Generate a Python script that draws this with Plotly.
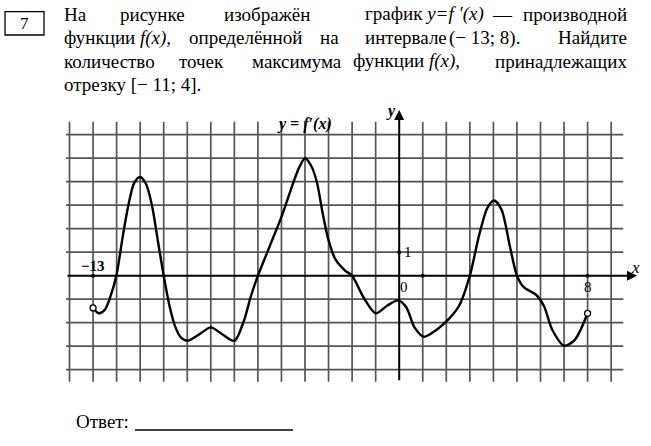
import plotly.graph_objects as go

W, H = 651, 446

# ---- data: y = f'(x) ----
x_vals = [-13, -12.75, -12.5, -12.25, -12, -11.75, -11.5, -11.25, -11, -10.75, -10.5,
          -10.25, -10, -9.75, -9.5, -9.25, -9, -8.5, -8, -7.5, -7, -6.6, -6.3, -6,
          -5.5, -5, -4.5, -4.25, -4, -3.75, -3.5, -3.25, -3, -2.7, -2.3, -2, -1.5,
          -1, -0.5, -0.05, 0.3, 0.65, 1.05, 1.55, 2.1, 2.55, 3, 3.4, 3.75, 4.03,
          4.35, 4.7, 5, 5.3, 5.8, 6.15, 6.5, 7, 7.45, 8]
y_vals = [-1.37, -1.6, -1.45, -0.85, 0.05, 1.6, 3.0, 3.95, 4.2, 3.9, 3.0,
          1.5, 0, -1.3, -2.2, -2.65, -2.77, -2.5, -2.2, -2.5, -2.77, -1.94, -0.88, 0,
          1.25, 2.5, 3.95, 4.6, 5.0, 4.7, 4.0, 2.66, 1.5, 0.68, 0.22, 0, -0.95,
          -1.6, -1.27, -1.05, -1.34, -2.2, -2.6, -2.33, -1.85, -1.27, 0, 1.75, 2.9, 3.2,
          2.8, 1.25, 0, -0.5, -0.8, -1.3, -2.3, -2.98, -2.74, -1.6]

grid_x = list(range(-14, 10))
grid_y = list(range(-4, 7))
tick_x_labels = {-13: "−13", 0: "0", 8: "8"}
tick_y_labels = {1: "1"}

# ---- pixel mapping of the drawing ----
X0, UX = 399.2, 23.55   # pixel of x=0, px per unit
Y0, UY = 275.7, 23.5    # pixel of y=0, px per unit
xr = [-X0 / UX, (W - X0) / UX]
yr = [(Y0 - H) / UY, Y0 / UY]

def dx(px):
    return (px - X0) / UX

def dy(py):
    return (Y0 - py) / UY

fig = go.Figure()

shapes = []
GRID = dict(color="#555555", width=1.7)
for gx in grid_x:
    if gx == 0:
        continue
    shapes.append(dict(type="line", xref="x", yref="y", x0=gx, x1=gx,
                       y0=dy(381.7), y1=dy(121.7), line=GRID, layer="below"))
for gy in grid_y:
    if gy == 0:
        continue
    shapes.append(dict(type="line", xref="x", yref="y", x0=dx(66), x1=dx(623.3),
                       y0=gy, y1=gy, line=GRID, layer="below"))

# box around task number
shapes.append(dict(type="rect", xref="x", yref="y", x0=dx(5), x1=dx(44),
                   y0=dy(11.7), y1=dy(35), line=dict(color="black", width=1.3)))
# answer underline
shapes.append(dict(type="line", xref="x", yref="y", x0=dx(135), x1=dx(293),
                   y0=dy(430), y1=dy(430), line=dict(color="black", width=1.3)))

annotations = []
# axes with arrows
annotations.append(dict(x=dx(637), y=0, ax=dx(66), ay=0, xref="x", yref="y",
                        axref="x", ayref="y", text="", showarrow=True,
                        arrowhead=2, arrowsize=1, arrowwidth=2, arrowcolor="black",
                        standoff=0, startstandoff=0))
annotations.append(dict(x=0, y=dy(110), ax=0, ay=dy(381.7), xref="x", yref="y",
                        axref="x", ayref="y", text="", showarrow=True,
                        arrowhead=2, arrowsize=1, arrowwidth=2, arrowcolor="black",
                        standoff=0, startstandoff=0))

SERIF = "Liberation Serif"

def txt(px, py, s, size=19, anchor="left", color="black", family=SERIF):
    annotations.append(dict(x=dx(px), y=dy(py), xref="x", yref="y", text=s,
                            showarrow=False, xanchor=anchor, yanchor="middle",
                            font=dict(family=family, size=size, color=color)))

# task text, justified word by word (last word right-anchored at the margin)
lines = [
    (14, [(61.7, "На", "left"), (118, "рисунке", "left"), (222, "изображён", "left"),
          (363, "график <i>y=f ′(x)</i>", "left"), (490, "—", "left"),
          (629, "производной", "right")]),
    (37.5, [(62, "функции <i>f(x),</i>", "left"),
            (187, "определённой", "left"), (318, "на", "left"),
            (363, "интервале", "left"), (447, "(− 13; 8).", "left"),
            (629, "Найдите", "right")]),
    (61, [(62, "количество", "left"), (177, "точек", "left"), (250, "максимума", "left"),
          (351, "функции <i>f(x),</i>", "left"),
          (629, "принадлежащих", "right")]),
    (84.5, [(62, "отрезку [− 11; 4].", "left")]),
]
for ly, words in lines:
    for wx, w, anc in words:
        txt(wx, ly, w, anchor=anc)

txt(24.5, 23, "7", size=17, anchor="center")
txt(74, 421, "Ответ:", size=19)

# graph labels
txt(304, 124, "<b><i>y = f′(x)</i></b>", size=16, anchor="center")
for k, s in tick_x_labels.items():
    if k == -13:
        txt(X0 + k * UX, 266, "<b>" + s + "</b>", size=15, anchor="center")
    elif k == 0:
        txt(X0 + 5, 287, s, size=15, anchor="center")
    else:
        txt(X0 + k * UX, 287, s, size=15, anchor="center")
for k, s in tick_y_labels.items():
    txt(X0 + 9, Y0 - k * UY, s, size=15, anchor="center")
txt(635, 267, "<i>x</i>", size=17, anchor="center")
txt(391, 111, "<i><b>y</b></i>", size=16, anchor="center")

# curve
fig.add_trace(go.Scatter(x=x_vals, y=y_vals, mode="lines",
                         line=dict(color="black", width=2.4, shape="spline", smoothing=0.8),
                         hoverinfo="skip"))
# tick dots
fig.add_trace(go.Scatter(x=[-13, 1, 8, 0], y=[0, 0, 0, 1], mode="markers",
                         marker=dict(color="black", size=4), hoverinfo="skip"))
# open endpoints
fig.add_trace(go.Scatter(x=[x_vals[0], x_vals[-1]], y=[y_vals[0], y_vals[-1]],
                         mode="markers",
                         marker=dict(color="white", size=6,
                                     line=dict(color="black", width=1.3)),
                         hoverinfo="skip"))

fig.update_layout(
    width=W, height=H, margin=dict(l=0, r=0, t=0, b=0),
    paper_bgcolor="white", plot_bgcolor="white", showlegend=False,
    xaxis=dict(range=xr, visible=False, fixedrange=True),
    yaxis=dict(range=yr, visible=False, fixedrange=True),
    shapes=shapes, annotations=annotations,
)
fig.write_html("out.html", config={"displayModeBar": False},
               post_script="document.body.style.margin='0';document.body.style.overflow='hidden';")
